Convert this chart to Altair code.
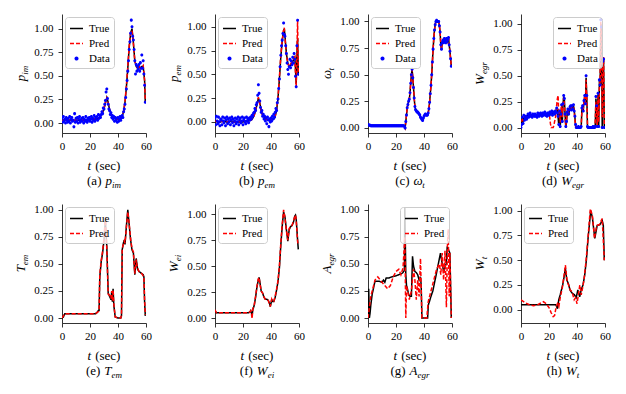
import altair as alt
import pandas as pd

FONT = "Liberation Serif"

# ---------------- data ----------------
# sample times of the measured "Data" points (0.5 s apart)
SAMPLE_T = [i * 0.5 for i in range(120)]

# (a) p_im
ta = [0, 2, 4, 6, 8, 10, 12, 14, 16, 18, 20, 22, 24, 26, 27, 28, 29, 30, 31, 32,
      33, 34, 35, 36, 38, 40, 42, 43, 44, 45, 46, 47, 48, 49, 50, 51, 52, 53, 54, 55,
      56, 57, 58, 59, 59.5]
true_a = [0.03, 0.035, 0.03, 0.03, 0.03, 0.03, 0.03, 0.03, 0.03, 0.035,
          0.04, 0.04, 0.045, 0.05, 0.06, 0.08, 0.11, 0.15, 0.21, 0.27,
          0.22, 0.14, 0.10, 0.07, 0.05, 0.04, 0.05, 0.07, 0.12, 0.22,
          0.38, 0.58, 0.80, 0.95, 1.00, 0.85, 0.66, 0.60, 0.58, 0.60,
          0.58, 0.60, 0.60, 0.45, 0.22]
pred_a = [0.03, 0.03, 0.03, 0.035, 0.03, 0.03, 0.03, 0.035, 0.03, 0.03,
          0.04, 0.045, 0.045, 0.05, 0.06, 0.08, 0.12, 0.16, 0.22, 0.28,
          0.21, 0.14, 0.10, 0.07, 0.05, 0.04, 0.05, 0.07, 0.12, 0.23,
          0.40, 0.60, 0.82, 0.96, 0.98, 0.84, 0.66, 0.61, 0.58, 0.61,
          0.58, 0.59, 0.61, 0.45, 0.22]
data_a = [0.05, 0.01, 0.07, 0.02, 0.04, 0.00, 0.06, 0.03, 0.01, 0.05,
          0.02, 0.07, 0.00, 0.04, 0.06, 0.02, 0.03, -0.04, 0.10, 0.01,
          0.05, 0.02, 0.06, 0.00, 0.04, 0.07, 0.01, 0.03, 0.05, 0.02,
          0.06, 0.00, 0.04, 0.02, 0.07, 0.03, 0.01, 0.05, 0.03, 0.06,
          0.02, 0.04, 0.07, 0.01, 0.05, 0.03, 0.08, 0.02, 0.06, 0.04,
          0.07, 0.03, 0.09, 0.05, 0.08, 0.06, 0.09, 0.12, 0.10, 0.16,
          0.15, 0.20, 0.24, 0.33, 0.36, 0.26, 0.20, 0.15, 0.13, 0.09,
          0.11, 0.06, 0.08, 0.04, 0.07, 0.02, 0.06, 0.03, 0.05, 0.01,
          0.06, 0.02, 0.04, 0.07, 0.03, 0.06, 0.08, 0.06, 0.12, 0.15,
          0.20, 0.27, 0.36, 0.45, 0.55, 0.66, 0.78, 0.86, 0.95, 1.09,
          1.02, 0.92, 0.88, 0.78, 0.66, 0.52, 0.62, 0.55, 0.60, 0.57,
          0.62, 0.55, 0.64, 0.58, 0.72, 0.58, 0.66, 0.52, 0.40, 0.22]

# (b) p_em
tb = [0, 2, 4, 6, 8, 10, 12, 14, 16, 18, 20, 22, 24, 26, 27, 28, 29, 30, 31, 32,
      33, 34, 35, 36, 38, 40, 42, 43, 44, 45, 46, 47, 48, 49, 49.5, 50, 51, 52, 53, 54,
      55, 56, 57, 57.5, 58, 58.5, 59, 59.5]
true_b = [0.01, 0.00, 0.00, 0.01, 0.00, 0.00, 0.01, 0.00, 0.00, 0.00,
          0.00, 0.01, 0.01, 0.02, 0.04, 0.07, 0.12, 0.18, 0.25, 0.20,
          0.12, 0.07, 0.05, 0.03, 0.02, 0.02, 0.03, 0.06, 0.12, 0.25,
          0.45, 0.68, 0.85, 0.96, 0.98, 0.90, 0.72, 0.62, 0.58, 0.60,
          0.62, 0.65, 0.68, 0.55, 0.40, 0.70, 0.88, 0.50]
pred_b = [0.01, 0.00, 0.01, 0.00, 0.00, 0.01, 0.00, 0.00, 0.01, 0.00,
          0.01, 0.00, 0.01, 0.02, 0.04, 0.07, 0.12, 0.19, 0.26, 0.19,
          0.12, 0.07, 0.05, 0.03, 0.02, 0.02, 0.03, 0.06, 0.13, 0.26,
          0.47, 0.70, 0.86, 0.97, 0.99, 0.88, 0.70, 0.62, 0.58, 0.61,
          0.63, 0.66, 0.70, 0.50, 0.37, 0.75, 1.07, 0.50]
data_b = [0.04, -0.03, 0.06, 0.01, -0.02, 0.05, 0.00, -0.04, 0.03, 0.02,
          -0.03, 0.05, 0.01, -0.01, 0.04, -0.04, 0.02, 0.05, -0.02, 0.03,
          0.00, 0.04, -0.03, 0.02, 0.05, -0.01, 0.03, -0.04, 0.01, 0.04,
          -0.02, 0.03, 0.00, 0.05, -0.03, 0.02, 0.04, -0.01, 0.01, 0.05,
          -0.03, 0.02, 0.04, 0.00, -0.02, 0.05, 0.01, 0.03, -0.01, 0.04,
          0.02, 0.05, 0.03, 0.07, 0.06, 0.09, 0.10, 0.14, 0.12, 0.18,
          0.20, 0.28, 0.39, 0.30, 0.22, 0.15, 0.10, 0.12, 0.06, 0.08,
          0.03, 0.06, 0.01, 0.04, -0.02, 0.05, 0.02, -0.05, 0.03, 0.00,
          0.04, 0.01, 0.06, 0.03, 0.08, 0.05, 0.10, 0.14, 0.12, 0.20,
          0.24, 0.35, 0.45, 0.58, 0.70, 0.80, 0.86, 0.93, 1.04, 0.92,
          0.90, 0.80, 0.72, 0.62, 0.55, 0.50, 0.58, 0.66, 0.57, 0.64,
          0.60, 0.68, 0.62, 0.72, 0.66, 0.48, 0.37, 0.80, 1.07, 0.50]

# (c) omega_t  (true, prediction and data coincide)
true_c = [0.03, 0.03, 0.025, 0.025, 0.02, 0.02, 0.02, 0.02, 0.02, 0.02,
          0.02, 0.02, 0.02, 0.02, 0.02, 0.02, 0.02, 0.02, 0.02, 0.02,
          0.02, 0.02, 0.02, 0.02, 0.02, 0.02, 0.02, 0.02, 0.02, 0.02,
          0.02, 0.02, 0.02, 0.02, 0.02, 0.02, 0.02, 0.02, 0.02, 0.02,
          0.02, 0.02, 0.02, 0.02, 0.02, 0.02, 0.02, 0.02, 0.02, 0.02,
          0.02, 0.02, 0.015, 0.00, 0.06, 0.12, 0.19, 0.22, 0.25, 0.27,
          0.33, 0.42, 0.50, 0.55, 0.47, 0.38, 0.28, 0.20, 0.17, 0.16,
          0.15, 0.15, 0.14, 0.13, 0.12, 0.10, 0.09, 0.08, 0.07, 0.09,
          0.11, 0.12, 0.13, 0.12, 0.12, 0.12, 0.14, 0.18, 0.24, 0.32,
          0.40, 0.50, 0.62, 0.74, 0.84, 0.92, 0.97, 1.00, 1.01, 1.00,
          1.00, 1.00, 0.96, 0.90, 0.78, 0.74, 0.80, 0.82, 0.80, 0.84,
          0.82, 0.80, 0.84, 0.81, 0.83, 0.85, 0.78, 0.72, 0.65, 0.58]
pred_c = list(true_c)
data_c = list(true_c)

# (d) W_egr
true_d = [0.00, 0.05, 0.08, 0.06, 0.09, 0.10, 0.09, 0.10, 0.11, 0.10,
          0.12, 0.11, 0.12, 0.11, 0.12, 0.12, 0.11, 0.12, 0.12, 0.11,
          0.12, 0.12, 0.11, 0.12, 0.12, 0.13, 0.12, 0.12, 0.13, 0.12,
          0.12, 0.13, 0.12, 0.13, 0.13, 0.12, 0.13, 0.13, 0.12, 0.13,
          0.13, 0.14, 0.13, 0.14, 0.14, 0.13, 0.14, 0.15, 0.14, 0.15,
          0.15, 0.18, 0.16, 0.10, 0.02, 0.15, 0.00, 0.12, 0.20, 0.05,
          0.22, 0.30, 0.27, 0.12, 0.00, 0.05, 0.14, 0.17, 0.12, 0.16,
          0.19, 0.20, 0.18, 0.20, 0.19, 0.21, 0.17, 0.10, 0.02, 0.00,
          0.00, 0.00, 0.00, 0.00, 0.00, 0.00, 0.00, 0.18, 0.20, 0.17,
          0.25, 0.30, 0.22, 0.48, 0.30, 0.00, 0.00, 0.00, 0.00, 0.00,
          0.00, 0.00, 0.00, 0.00, 0.00, 0.00, 0.00, 0.28, 0.20, 0.00,
          0.32, 0.00, 0.45, 0.40, 1.00, 0.95, 0.00, 0.62, 0.65, 0.00]
pred_d = [0.00, 0.06, 0.08, 0.07, 0.09, 0.10, 0.10, 0.10, 0.11, 0.11,
          0.11, 0.12, 0.12, 0.12, 0.12, 0.12, 0.12, 0.12, 0.12, 0.12,
          0.12, 0.12, 0.12, 0.12, 0.12, 0.13, 0.13, 0.12, 0.13, 0.13,
          0.13, 0.13, 0.13, 0.13, 0.13, 0.13, 0.13, 0.13, 0.13, 0.13,
          0.13, 0.10, 0.04, 0.00, 0.00, 0.00, 0.00, 0.02, 0.06, 0.08,
          0.14, 0.22, 0.28, 0.31, 0.10, 0.18, 0.05, 0.15, 0.22, 0.10,
          0.25, 0.29, 0.22, 0.08, 0.02, 0.08, 0.16, 0.18, 0.14, 0.17,
          0.20, 0.21, 0.19, 0.21, 0.20, 0.20, 0.15, 0.08, 0.01, 0.00,
          0.00, 0.00, 0.00, 0.00, 0.00, 0.00, 0.02, 0.16, 0.21, 0.18,
          0.26, 0.30, 0.24, 0.46, 0.28, 0.02, 0.00, 0.00, 0.00, 0.00,
          0.00, 0.00, 0.00, 0.00, 0.00, 0.00, 0.05, 0.25, 0.18, 0.02,
          0.30, 0.05, 0.40, 0.45, 1.02, 0.85, 0.10, 0.58, 0.68, 0.00]
data_d = [0.00, 0.03, 0.10, 0.04, 0.12, 0.07, 0.09, 0.11, 0.08, 0.10,
          0.13, 0.10, 0.12, 0.14, 0.11, 0.12, 0.10, 0.13, 0.12, 0.11,
          0.13, 0.11, 0.12, 0.10, 0.14, 0.12, 0.11, 0.13, 0.14, 0.12,
          0.11, 0.14, 0.12, 0.13, 0.15, 0.12, 0.13, 0.11, 0.14, 0.13,
          0.12, 0.15, 0.13, 0.14, 0.16, 0.12, 0.15, 0.14, 0.13, 0.16,
          0.15, 0.19, 0.14, 0.11, 0.03, 0.16, 0.01, 0.13, 0.22, 0.06,
          0.23, 0.31, 0.28, 0.13, 0.01, 0.06, 0.15, 0.18, 0.13, 0.17,
          0.20, 0.21, 0.17, 0.21, 0.18, 0.22, 0.16, 0.11, 0.03, 0.00,
          0.00, 0.00, 0.01, 0.00, 0.00, 0.00, 0.01, 0.19, 0.21, 0.16,
          0.26, 0.31, 0.23, 0.50, 0.31, 0.01, 0.00, 0.00, 0.00, 0.00,
          0.00, 0.00, 0.00, 0.01, 0.00, 0.00, 0.01, 0.30, 0.21, 0.01,
          0.33, 0.01, 0.46, 0.41, 1.04, 0.97, 0.00, 0.64, 0.66, 0.00]

# (e) T_em
te = [0, 1, 2, 5, 10, 15, 20, 24, 25, 26, 26.5, 27, 28, 29, 30, 31, 32, 33, 34, 35,
      35.5, 36, 36.5, 37, 38, 40, 42, 42.5, 43, 44, 44.5, 45, 46, 47, 48, 49, 50, 51, 52, 53,
      53.5, 54, 55, 56, 57, 58, 58.5, 59, 59.5]
true_e = [0.00, 0.01, 0.04, 0.04, 0.04, 0.04, 0.04, 0.04, 0.05, 0.07,
          0.07, 0.38, 0.52, 0.60, 0.72, 0.90, 0.66, 0.23, 0.20, 0.17,
          0.24, 0.15, 0.27, 0.12, 0.01, 0.00, 0.00, 0.02, 0.63, 0.70,
          0.72, 0.68, 0.85, 1.00, 0.86, 0.72, 0.63, 0.60, 0.40, 0.55,
          0.50, 0.45, 0.43, 0.42, 0.41, 0.40, 0.38, 0.15, 0.02]
pred_e = [0.00, 0.02, 0.04, 0.04, 0.04, 0.04, 0.04, 0.04, 0.05, 0.06,
          0.08, 0.40, 0.53, 0.62, 0.74, 0.93, 0.64, 0.22, 0.21, 0.18,
          0.25, 0.16, 0.26, 0.13, 0.01, 0.00, 0.00, 0.03, 0.64, 0.69,
          0.71, 0.69, 0.84, 0.98, 0.87, 0.73, 0.64, 0.61, 0.41, 0.54,
          0.49, 0.46, 0.43, 0.42, 0.41, 0.39, 0.38, 0.16, 0.03]

# (f) W_ei
tf = [0, 1, 2, 5, 10, 15, 20, 24, 25, 25.5, 26, 26.5, 27, 28, 28.5, 29, 30, 31, 31.5, 32,
      33, 34, 35, 36, 37, 38, 39, 39.5, 40, 40.5, 41, 42, 43, 44, 45, 46, 47, 48, 49, 49.5,
      50, 51, 52, 53, 54, 55, 56, 57, 57.5, 58, 59, 59.5]
true_f = [0.07, 0.05, 0.05, 0.05, 0.05, 0.05, 0.05, 0.05, 0.06, 0.07,
          0.05, 0.02, 0.08, 0.12, 0.16, 0.20, 0.30, 0.37, 0.39, 0.35,
          0.26, 0.24, 0.20, 0.18, 0.18, 0.17, 0.14, 0.11, 0.14, 0.18,
          0.16, 0.16, 0.20, 0.27, 0.35, 0.48, 0.70, 0.88, 1.02, 1.00,
          0.97, 0.85, 0.74, 0.85, 0.88, 0.89, 0.92, 0.98, 0.99, 0.95,
          0.75, 0.66]
pred_f = [0.08, 0.05, 0.05, 0.05, 0.05, 0.05, 0.05, 0.05, 0.06, 0.07,
          0.04, -0.005, 0.09, 0.12, 0.17, 0.21, 0.31, 0.38, 0.39, 0.34,
          0.26, 0.24, 0.20, 0.18, 0.18, 0.17, 0.13, 0.11, 0.15, 0.18,
          0.16, 0.16, 0.21, 0.28, 0.36, 0.50, 0.72, 0.90, 1.04, 1.00,
          0.96, 0.84, 0.75, 0.86, 0.88, 0.89, 0.93, 0.98, 0.99, 0.94,
          0.74, 0.70]

# (g) A_egr
tg_true = [0, 0.5, 1, 1.5, 2, 3, 5, 8, 10, 11, 12, 13, 15, 17, 20, 22, 24, 25, 26, 26.3,
           27, 27.5, 28, 29, 30, 31, 31.8, 32.5, 33.5, 34.5, 35.5, 36.5, 37.5, 38, 38.5, 40,
           42, 42.6, 43.1, 45, 46.3, 48.7, 51, 51.8, 53, 54.2, 55.2, 55.9, 56.6, 57.8, 58.5, 59.5]
true_g = [0.00, 0.27, 0.00, 0.05, 0.12, 0.22, 0.34, 0.34, 0.33, 0.35,
          0.33, 0.37, 0.37, 0.38, 0.39, 0.40, 0.41, 0.42, 0.44, 1.02,
          0.40, 0.30, 0.28, 0.22, 0.20, 0.20, 0.57, 0.48, 0.43, 0.42,
          0.40, 0.35, 0.38, 0.30, 0.00, 0.00, 0.00, 0.00, 0.12, 0.20,
          0.25, 0.40, 0.55, 0.60, 0.50, 0.42, 0.48, 0.50, 0.66, 0.62,
          0.60, 0.00]
tg_pred = [0, 2, 5, 7, 10, 12, 14, 16, 18, 20, 22, 23.5, 25, 26.3, 27, 27.5, 29.5, 31, 32.5, 33.5,
           34.5, 35.5, 36.5, 37.5, 38.5, 40, 42, 43, 46, 49, 51, 52, 53, 54, 55, 56, 56.8, 57.3,
           58, 58.5, 59.5]
pred_g = [0.00, 0.20, 0.35, 0.38, 0.33, 0.30, 0.27, 0.30, 0.38, 0.43,
          0.45, 0.40, 0.46, 0.75, 0.00, 0.30, 0.17, 0.25, 0.45, 0.35,
          0.17, 0.35, 0.20, 0.55, 0.00, 0.00, 0.00, 0.15, 0.30, 0.45,
          0.50, 0.40, 0.60, 0.35, 0.62, 0.10, 0.70, 0.82, 0.20, 0.60,
          0.00]

# (h) W_t
th_true = [0, 5, 10, 15, 20, 25, 26, 27, 28, 29.8, 31, 31.7, 32.7, 33.9, 35, 36.3, 38.2, 39.4,
           40.6, 41.9, 43, 44.3, 45.5, 46.7, 47.9, 49.8, 51, 52.7, 54.4, 56.4, 58, 58.8, 59.5]
true_h = [0.05, 0.05, 0.05, 0.05, 0.05, 0.05, 0.01, 0.10, 0.15, 0.25,
          0.35, 0.42, 0.30, 0.26, 0.20, 0.17, 0.15, 0.12, 0.20, 0.13,
          0.20, 0.25, 0.35, 0.50, 0.72, 1.00, 0.93, 0.72, 0.85, 0.86,
          0.90, 0.85, 0.50]
th_pred = [0, 3, 6, 9, 12, 14.5, 16, 18, 20, 21.5, 23, 24, 25, 26, 27, 28, 29.5, 30.5, 31.7, 33,
           34, 35, 36.5, 38, 39, 40, 41, 42, 43, 44, 45, 46.5, 48, 49.5, 51, 52.5, 54, 56, 58, 59.5]
pred_h = [0.10, 0.07, 0.05, 0.04, 0.05, 0.07, 0.08, 0.06, 0.02, -0.03,
          -0.07, -0.06, 0.02, 0.06, 0.03, 0.12, 0.22, 0.32, 0.45, 0.28,
          0.25, 0.20, 0.18, 0.10, 0.12, 0.06, 0.15, 0.25, 0.15, 0.22,
          0.30, 0.50, 0.75, 1.02, 0.95, 0.72, 0.85, 0.86, 0.92, 0.50]

X_TICKS = [0, 20, 40, 60]
Y_TICKS = [0.0, 0.25, 0.5, 0.75, 1.0]

# ---------------- styling ----------------
W, H = 84, 119
COLORS = {"True": "#000000", "Pred": "#ff0000", "Data": "#0000ff"}
DASHES = {"True": [1, 0], "Pred": [4, 2], "Data": [1, 0]}
DOT = "M-0.2,0A0.2,0.2,0,1,0,0.2,0A0.2,0.2,0,1,0,-0.2,0Z"
SHAPES = {"True": "stroke", "Pred": "stroke", "Data": DOT}
ONE = pd.DataFrame({"k": [0]})

CHAR_W = {"(": 0.333, ")": 0.333, "a": 0.444, "b": 0.5, "c": 0.444, "d": 0.5,
          "e": 0.444, "f": 0.333, "g": 0.5, "h": 0.5, "s": 0.389, "p": 0.5,
          "t": 0.278, "W": 0.833, "T": 0.556, "A": 0.611, "ω": 0.67, "i": 0.278,
          "m": 0.722, "r": 0.389}

BIG, SMALL = 13, 9


def text_group(parts, x, y, angle=0):
    """parts: (text, size, italic, dy, gap_before)"""
    widths = [sum(CHAR_W.get(ch, 0.5) for ch in p[0]) * p[1] for p in parts]
    total = sum(widths) + sum(p[4] for p in parts)
    cur = -total / 2
    out = []
    for (txt, size, italic, dy, gap), w in zip(parts, widths):
        cur += gap
        out.append(
            alt.Chart(ONE).mark_text(
                text=txt, font=FONT, fontSize=size,
                fontStyle="italic" if italic else "normal",
                align="left", baseline="alphabetic", dx=cur, dy=dy,
                angle=angle, color="black",
            ).encode(x=alt.value(x), y=alt.value(y))
        )
        cur += w
    return out


def frame(t, v, name):
    return pd.DataFrame({"t": t, "v": v, "series": name})


def panel(letter, sym, sub, lines, data, ydom, right=False):
    dom = ["True", "Pred", "Data"] if data is not None else ["True", "Pred"]
    leg = alt.Legend(title=None, orient="top-right" if right else "top-left", offset=3)
    xenc = alt.X("t:Q", scale=alt.Scale(domain=[0, 60], nice=False, zero=False),
                 axis=alt.Axis(values=X_TICKS, format="d", title=None,
                               labelFlush=False, labelOverlap=False))
    yenc = alt.Y("v:Q", scale=alt.Scale(domain=ydom, nice=False, zero=False),
                 axis=alt.Axis(values=Y_TICKS, format=".2f", title=None,
                               labelOverlap=False))
    color = alt.Color("series:N", scale=alt.Scale(domain=dom, range=[COLORS[s] for s in dom]),
                      legend=leg)
    dash = alt.StrokeDash("series:N",
                          scale=alt.Scale(domain=dom, range=[DASHES[s] for s in dom]),
                          legend=leg)
    layers = []
    for name, t, v in lines:
        layers.append(
            alt.Chart(frame(t, v, name)).mark_line(strokeWidth=1.5, clip=True)
            .encode(x=xenc, y=yenc, color=color, strokeDash=dash)
        )
    if data is not None:
        shape = alt.Shape("series:N",
                          scale=alt.Scale(domain=dom, range=[SHAPES[s] for s in dom]),
                          legend=leg)
        layers.append(
            alt.Chart(frame(SAMPLE_T, data, "Data"))
            .mark_point(filled=True, size=230, opacity=1, clip=True)
            .encode(x=xenc, y=yenc, color=color, shape=shape)
        )
    layers += text_group([(sym, BIG, True, 0, 0), (sub, SMALL, True, 3, 0)],
                         -37, H / 2, angle=270)
    layers += text_group([("t", BIG, True, 0, 0), ("(sec)", BIG, False, 0, 4)],
                         W / 2, H + 37)
    layers += text_group([(f"({letter})", BIG, False, 0, 0), (sym, BIG, True, 0, 4),
                          (sub, SMALL, True, 3, 0)], W / 2, H + 52)
    return alt.layer(*layers).properties(width=W, height=H)


panels = [
    panel("a", "p", "im", [("True", ta, true_a), ("Pred", ta, pred_a)], data_a, [-0.105, 1.155]),
    panel("b", "p", "em", [("True", tb, true_b), ("Pred", tb, pred_b)], data_b, [-0.117, 1.135]),
    panel("c", "ω", "t", [("True", SAMPLE_T, true_c), ("Pred", SAMPLE_T, pred_c)], data_c,
          [-0.048, 1.07]),
    panel("d", "W", "egr", [("True", SAMPLE_T, true_d), ("Pred", SAMPLE_T, pred_d)], data_d,
          [-0.052, 1.095], right=True),
    panel("e", "T", "em", [("True", te, true_e), ("Pred", te, pred_e)], None, [-0.046, 1.053]),
    panel("f", "W", "ei", [("True", tf, true_f), ("Pred", tf, pred_f)], None, [-0.048, 1.097]),
    panel("g", "A", "egr", [("True", tg_true, true_g), ("Pred", tg_pred, pred_g)], None,
          [-0.046, 1.053], right=True),
    panel("h", "W", "t", [("True", th_true, true_h), ("Pred", th_pred, pred_h)], None,
          [-0.135, 1.068]),
]

chart = (
    alt.concat(*panels, columns=4, spacing={"row": 13, "column": 16})
    .resolve_scale(color="independent", strokeDash="independent", shape="independent")
    .properties(padding={"left": 7, "top": 6, "right": 2, "bottom": 2})
    .configure_view(stroke=None)
    .configure_axis(grid=False, domainColor="black", domainWidth=0.8, tickColor="black",
                    tickWidth=0.8, tickSize=4, labelFont=FONT, labelFontSize=11,
                    labelColor="black")
    .configure_axisX(labelPadding=3)
    .configure_axisY(labelPadding=5)
    .configure_legend(fillColor="rgba(255,255,255,0.8)", strokeColor="#cccccc",
                      cornerRadius=3, padding=4, labelFont=FONT, labelFontSize=11,
                      labelColor="black", symbolSize=169, symbolStrokeWidth=1.5,
                      rowPadding=2, labelOffset=5, symbolFillColor="#0000ff")
)

chart.save("out.html", embed_options={"renderer": "svg", "actions": False})
